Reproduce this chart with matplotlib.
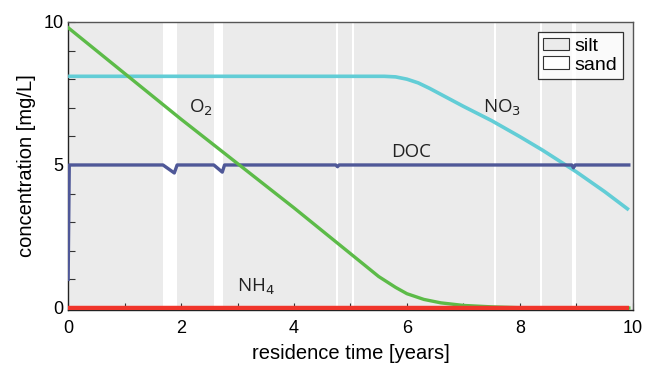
import numpy as np
import matplotlib
matplotlib.use("Agg")
import matplotlib.pyplot as plt
from matplotlib.patches import Patch

plt.rcParams['font.family'] = ['Liberation Sans', 'DejaVu Sans']

# sand layers (white bands) along the flow path [years]
sand_start = [1.68, 2.58, 4.75, 5.02, 7.54, 8.35, 8.93]
sand_end = [1.93, 2.74, 4.78, 5.06, 7.58, 8.39, 9.00]

# O2
o2_t = [0.0, 1.0, 2.0, 3.0, 4.0, 5.0, 5.5, 5.8, 6.0, 6.3, 6.6, 7.0, 7.5, 8.0, 9.93]
o2_c = [9.8, 8.2, 6.6, 5.05, 3.5, 1.9, 1.1, 0.72, 0.5, 0.3, 0.18, 0.09, 0.04, 0.01, 0.0]

# NO3
no3_t = [0.0, 5.6, 5.8, 6.0, 6.2, 6.4, 6.6, 7.0, 7.5, 8.0, 8.4, 9.0, 9.5, 9.93]
no3_c = [8.1, 8.1, 8.08, 8.0, 7.87, 7.68, 7.47, 7.05, 6.55, 5.99, 5.52, 4.76, 4.07, 3.43]

# DOC
doc_t = [0.0, 0.02, 1.68, 1.88, 1.93, 2.58, 2.73, 2.77, 4.74, 4.77, 4.8, 8.92, 8.95, 8.98, 9.93]
doc_c = [1.0, 5.0, 5.0, 4.72, 5.0, 5.0, 4.75, 5.0, 5.0, 4.94, 5.0, 5.0, 4.9, 5.0, 5.0]

# NH4
nh4_t = [0.0, 9.93]
nh4_c = [0.0, 0.0]

fig = plt.figure(figsize=(6.49, 3.66), dpi=100)
ax = fig.add_axes([0.105, 0.153, 0.87, 0.787])

ax.set_facecolor('#ebebeb')
for s, e in zip(sand_start, sand_end):
    ax.axvspan(s, e, color='white', lw=0, zorder=0.5)

ax.plot(no3_t, no3_c, color='#62cdd6', lw=2.6, solid_capstyle='butt', zorder=3)
ax.plot(doc_t, doc_c, color='#4f5898', lw=2.4, zorder=3)
ax.plot(o2_t, o2_c, color='#5cbb48', lw=2.4, zorder=4)
ax.plot(nh4_t, nh4_c, color='#f0352b', lw=3.2, solid_capstyle='butt', zorder=5)

lab = dict(fontsize=13.5, family=['Open Sans', 'DejaVu Sans'], color='#222222')
ax.text(2.35, 7.0, 'O$_2$', ha='center', va='center', **lab)
ax.text(7.68, 7.0, 'NO$_3$', ha='center', va='center', **lab)
ax.text(6.07, 5.45, 'DOC', ha='center', va='center', **lab)
ax.text(3.33, 0.73, 'NH$_4$', ha='center', va='center', **lab)

ax.set_xlim(0, 10.0)
ax.set_ylim(-0.07, 10)
ax.set_xticks([0, 2, 4, 6, 8, 10])
ax.set_xticks(np.arange(0, 11, 1), minor=True)
ax.set_yticks([0, 5, 10])
ax.set_yticks(np.arange(0, 11, 1), minor=True)
ax.tick_params(which='both', direction='in', length=5, width=0.8, colors='#333333',
               labelsize=13, labelcolor='black', top=False, right=False)
ax.tick_params(axis='x', pad=7)
for sp in ax.spines.values():
    sp.set_color('#555555')
    sp.set_linewidth(1.0)
ax.spines['left'].set_color('#222222')
ax.spines['bottom'].set_color('#222222')

ax.set_xlabel('residence time [years]', fontsize=14.5, labelpad=5)
ax.set_ylabel('concentration [mg/L]', fontsize=14.5, labelpad=5)

handles = [Patch(facecolor='#ebebeb', edgecolor='#333333', lw=0.8, label='silt'),
           Patch(facecolor='white', edgecolor='#333333', lw=0.8, label='sand')]
leg = ax.legend(handles=handles, loc='upper right', fontsize=14, frameon=True, fancybox=False,
                handlelength=1.3, handleheight=0.6, handletextpad=0.3, borderpad=0.3,
                labelspacing=0.1, borderaxespad=0.5)
leg.get_frame().set_edgecolor('black')
leg.get_frame().set_linewidth(0.9)

fig.savefig('out.png', dpi=100)
